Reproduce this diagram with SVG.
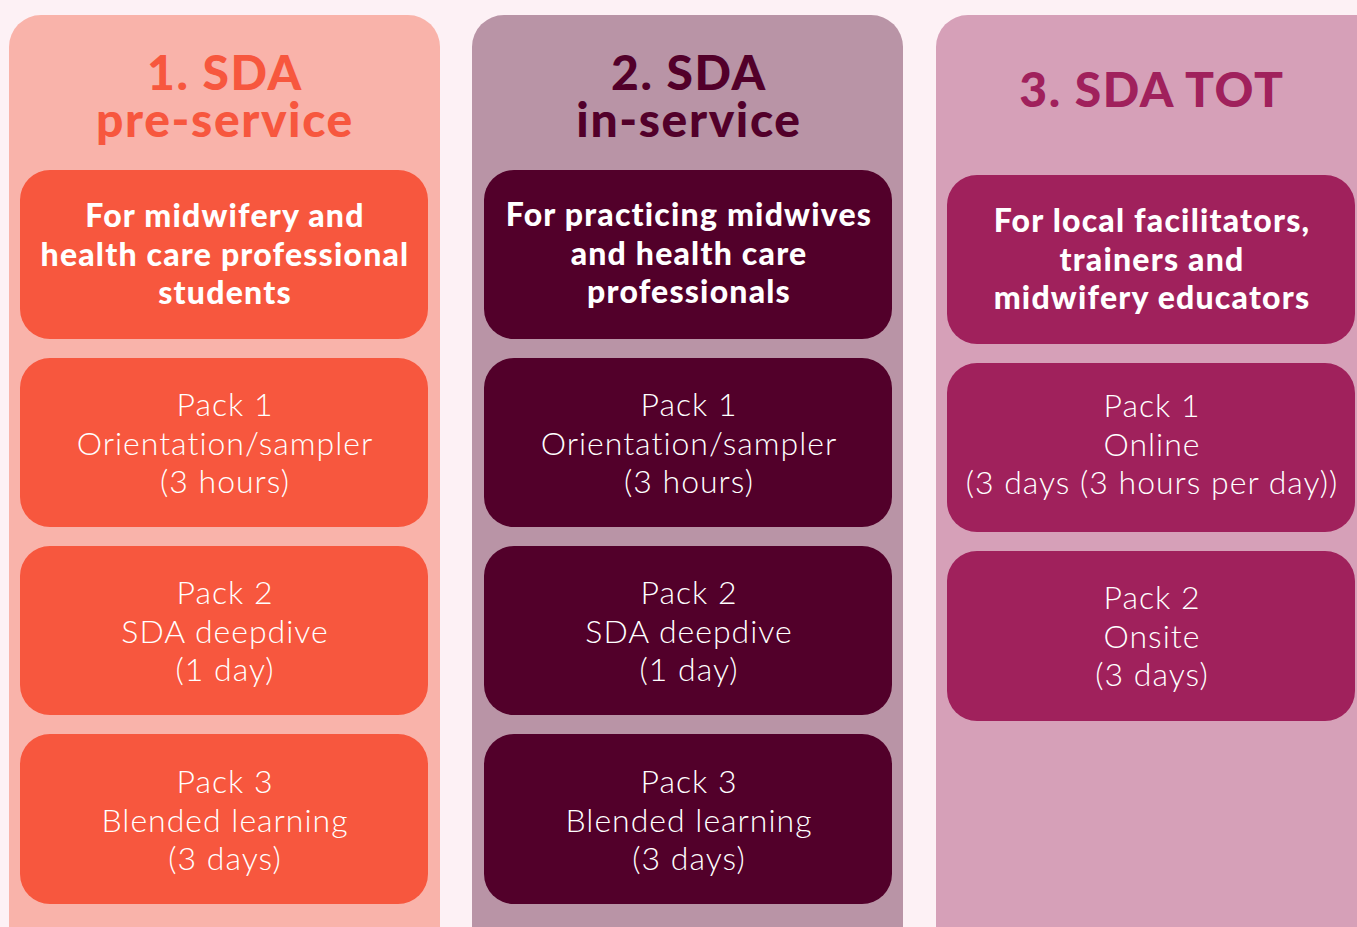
<svg xmlns="http://www.w3.org/2000/svg" width="1357" height="927" viewBox="0 0 1357 927">
<style>
.title{font-family:Lato,"Open Sans",sans-serif;font-weight:900;font-size:48px;letter-spacing:1.6px;text-anchor:middle}
.head{font-family:Lato,"Open Sans",sans-serif;font-weight:900;font-size:32px;letter-spacing:1.2px;fill:#fff;text-anchor:middle}
.pack{font-family:Lato,"Open Sans",sans-serif;font-weight:300;font-size:32px;letter-spacing:1px;fill:#fff;text-anchor:middle}
.c1o{fill:#F9B3AA}.c1i{fill:#F7573E}
.c2o{fill:#B994A6}.c2i{fill:#52002A}
.c3o{fill:#D6A0B8}.c3i{fill:#A0215C}
</style>
<rect width="1357" height="927" fill="#FDF1F5"/>
<g id="col1">
<rect class="c1o" x="9" y="15" width="431" height="950" rx="32"/>
<text class="title" fill="#F7573E"><tspan x="225" y="90">1. SDA</tspan><tspan x="225" y="137">pre-service</tspan></text>
</g>
<g id="col1-head"><rect class="c1i" x="20" y="170" width="408" height="169" rx="30"/>
<text class="head"><tspan x="225" y="227">For midwifery and</tspan><tspan x="225" y="266">health care professional</tspan><tspan x="225" y="304">students</tspan></text></g>
<g id="col1-pack1"><rect class="c1i" x="20" y="358" width="408" height="169" rx="30"/>
<text class="pack"><tspan x="225" y="416">Pack 1</tspan><tspan x="225" y="455">Orientation/sampler</tspan><tspan x="225" y="493">(3 hours)</tspan></text></g>
<g id="col1-pack2"><rect class="c1i" x="20" y="546" width="408" height="169" rx="30"/>
<text class="pack"><tspan x="225" y="604">Pack 2</tspan><tspan x="225" y="643">SDA deepdive</tspan><tspan x="225" y="681">(1 day)</tspan></text></g>
<g id="col1-pack3"><rect class="c1i" x="20" y="734" width="408" height="170" rx="30"/>
<text class="pack"><tspan x="225" y="793">Pack 3</tspan><tspan x="225" y="832">Blended learning</tspan><tspan x="225" y="870">(3 days)</tspan></text></g>

<g id="col2">
<rect class="c2o" x="472" y="15" width="431" height="950" rx="32"/>
<text class="title" fill="#52002A"><tspan x="689" y="90">2. SDA</tspan><tspan x="689" y="137">in-service</tspan></text>
</g>
<g id="col2-head"><rect class="c2i" x="484" y="170" width="408" height="169" rx="30"/>
<text class="head"><tspan x="689" y="226">For practicing midwives</tspan><tspan x="689" y="265">and health care</tspan><tspan x="689" y="303">professionals</tspan></text></g>
<g id="col2-pack1"><rect class="c2i" x="484" y="358" width="408" height="169" rx="30"/>
<text class="pack"><tspan x="689" y="416">Pack 1</tspan><tspan x="689" y="455">Orientation/sampler</tspan><tspan x="689" y="493">(3 hours)</tspan></text></g>
<g id="col2-pack2"><rect class="c2i" x="484" y="546" width="408" height="169" rx="30"/>
<text class="pack"><tspan x="689" y="604">Pack 2</tspan><tspan x="689" y="643">SDA deepdive</tspan><tspan x="689" y="681">(1 day)</tspan></text></g>
<g id="col2-pack3"><rect class="c2i" x="484" y="734" width="408" height="170" rx="30"/>
<text class="pack"><tspan x="689" y="793">Pack 3</tspan><tspan x="689" y="832">Blended learning</tspan><tspan x="689" y="870">(3 days)</tspan></text></g>

<g id="col3">
<rect class="c3o" x="936" y="15" width="460" height="950" rx="32"/>
<text class="title" fill="#A0215C"><tspan x="1152" y="107">3. SDA TOT</tspan></text>
</g>
<g id="col3-head"><rect class="c3i" x="947" y="175" width="408" height="169" rx="30"/>
<text class="head"><tspan x="1152" y="232">For local facilitators,</tspan><tspan x="1152" y="271">trainers and</tspan><tspan x="1152" y="309">midwifery educators</tspan></text></g>
<g id="col3-pack1"><rect class="c3i" x="947" y="363" width="408" height="169" rx="30"/>
<text class="pack"><tspan x="1152" y="417">Pack 1</tspan><tspan x="1152" y="456">Online</tspan><tspan x="1152" y="494">(3 days (3 hours per day))</tspan></text></g>
<g id="col3-pack2"><rect class="c3i" x="947" y="551" width="408" height="170" rx="30"/>
<text class="pack"><tspan x="1152" y="609">Pack 2</tspan><tspan x="1152" y="648">Onsite</tspan><tspan x="1152" y="686">(3 days)</tspan></text></g>
<g id="connectors"/>
</svg>
